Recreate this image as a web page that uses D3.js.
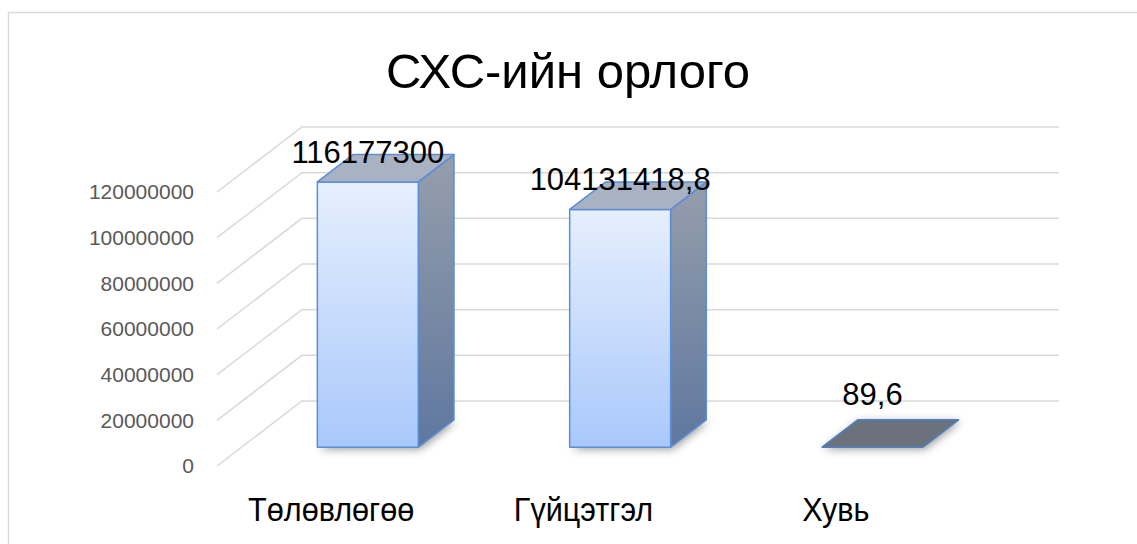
<!DOCTYPE html>
<html>
<head>
<meta charset="utf-8">
<script src="https://cdn.jsdelivr.net/npm/d3@7"></script>
<style>
  html, body { margin: 0; padding: 0; background: #ffffff; }
  svg { display: block; }
</style>
</head>
<body>
<svg id="chart" width="1137" height="544"></svg>
<script>
const title = "СХС-ийн орлого";
const categories = ["Төлөвлөгөө", "Гүйцэтгэл", "Хувь"];
const values = [116177300, 104131418.8, 89.6];
const valueLabels = ["116177300", "104131418,8", "89,6"];
const tickValues = [0, 20000000, 40000000, 60000000, 80000000, 100000000, 120000000];

const W = 1137, H = 544;
const svg = d3.select("#chart");

// 3D oblique projection settings
const depthDX = 85, depthDY = -65;      // full depth offset of back wall
const d0 = 0.29, d1 = 0.71;             // bar depth extent

const x = d3.scaleBand().domain(categories).range([217, 974]).paddingInner(0.6).paddingOuter(0.3);
const y = d3.scaleLinear().domain([0, 120000000]).range([466, 192]);

const proj = (px, v, d) => [px + d * depthDX, y(v) + d * depthDY];
const poly = pts => "M" + pts.map(p => p.join(",")).join("L") + "Z";

// defs
const defs = svg.append("defs");
const gFront = defs.append("linearGradient").attr("id", "gFront").attr("x1", 0).attr("y1", 0).attr("x2", 0).attr("y2", 1);
gFront.append("stop").attr("offset", "0%").attr("stop-color", "#e6effd");
gFront.append("stop").attr("offset", "100%").attr("stop-color", "#a9c8fb");
const gSide = defs.append("linearGradient").attr("id", "gSide").attr("x1", 0).attr("y1", 0).attr("x2", 0).attr("y2", 1);
gSide.append("stop").attr("offset", "0%").attr("stop-color", "#959eac");
gSide.append("stop").attr("offset", "100%").attr("stop-color", "#5f779f");
const blur = defs.append("filter").attr("id", "shadow").attr("x", "-50%").attr("y", "-50%").attr("width", "200%").attr("height", "200%");
blur.append("feGaussianBlur").attr("stdDeviation", 4);

// chart area border
svg.append("rect").attr("x", 8.5).attr("y", 12.5).attr("width", 1300).attr("height", 700)
  .attr("fill", "none").attr("stroke", "#d9d9d9").attr("stroke-width", 1.5);

// title
svg.append("text").attr("x", 568).attr("y", 88).attr("text-anchor", "middle")
  .attr("font-family", "Liberation Sans, Arial, sans-serif").attr("font-size", 49).attr("fill", "#000")
  .text(title);

// gridlines: side wall diagonal + back wall
const xl = x.range()[0], xr = x.range()[1];
const grid = svg.append("g").attr("stroke", "#d9d9d9").attr("stroke-width", 1.5).attr("fill", "none");
tickValues.forEach(t => {
  const a = proj(xl, t, 0), b = proj(xl, t, 1), c = proj(xr, t, 1);
  grid.append("path").attr("d", `M${a[0]},${a[1]}L${b[0]},${b[1]}L${c[0]},${c[1]}`);
});

// tick labels
svg.append("g").selectAll("text").data(tickValues).join("text")
  .attr("x", 194).attr("y", d => y(d)).attr("dy", "0.35em").attr("text-anchor", "end")
  .attr("font-family", "Liberation Sans, Arial, sans-serif").attr("font-size", 21).attr("fill", "#595959")
  .text(d => d3.format("d")(d));

// bars
const bars = svg.append("g");
categories.forEach((c, i) => {
  const v = values[i];
  const xa = x(c), xb = x(c) + x.bandwidth();
  const g = bars.append("g");
  // shadow
  const sh = [proj(xa, 0, d0), proj(xb, 0, d0), proj(xb, 0, d1), proj(xa, 0, d1)];
  g.append("path").attr("d", poly(sh)).attr("fill", "#7f7f7f").attr("opacity", 0.8)
    .attr("transform", "translate(2,2)").attr("filter", "url(#shadow)");
  const front = [proj(xa, 0, d0), proj(xb, 0, d0), proj(xb, v, d0), proj(xa, v, d0)];
  const side = [proj(xb, 0, d0), proj(xb, 0, d1), proj(xb, v, d1), proj(xb, v, d0)];
  const top = [proj(xa, v, d0), proj(xb, v, d0), proj(xb, v, d1), proj(xa, v, d1)];
  const h = y(0) - y(v);
  if (h > 2) {
    g.append("path").attr("d", poly(side)).attr("fill", "url(#gSide)").attr("stroke", "#5b8ed6").attr("stroke-width", 1.5).attr("stroke-linejoin", "round");
    g.append("path").attr("d", poly(front)).attr("fill", "url(#gFront)").attr("stroke", "#5b8ed6").attr("stroke-width", 1.5).attr("stroke-linejoin", "round");
    g.append("path").attr("d", poly(top)).attr("fill", "#a8b2c3").attr("stroke", "#5b8ed6").attr("stroke-width", 1.5).attr("stroke-linejoin", "round");
  } else {
    g.append("path").attr("d", poly(top)).attr("fill", "#6c727c").attr("stroke", "#4f7fc4").attr("stroke-width", 1.5).attr("stroke-linejoin", "round");
  }
  // value label
  const cx = (xa + xb) / 2 + d0 * depthDX;
  const ly = Math.min(y(v) + d0 * depthDY - 19, y(0) + d0 * depthDY - 42);
  svg.append("text").attr("x", cx).attr("y", ly).attr("text-anchor", "middle")
    .attr("font-family", "Liberation Sans, Arial, sans-serif").attr("font-size", 31).attr("fill", "#000")
    .text(valueLabels[i]);
});

// category labels (slightly condensed, as in the original)
svg.append("g").selectAll("text").data(categories).join("text")
  .attr("transform", d => `translate(${x(d) + x.bandwidth() / 2 - 12},521) scale(0.9,1)`)
  .attr("text-anchor", "middle")
  .attr("font-family", "Liberation Sans, Arial, sans-serif").attr("font-size", 34).attr("fill", "#000")
  .text(d => d);
</script>
</body>
</html>
